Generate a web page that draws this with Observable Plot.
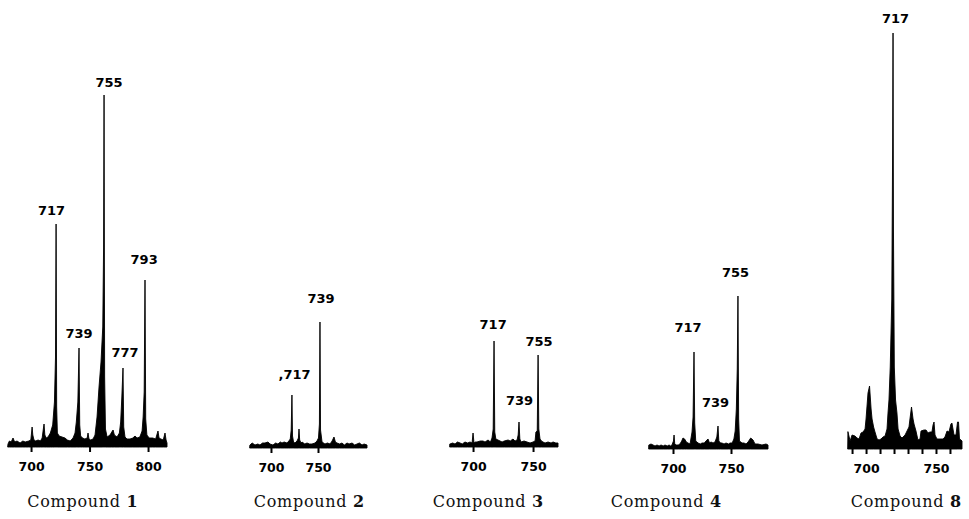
<!DOCTYPE html>
<html><head><meta charset="utf-8">
<script src="https://cdn.jsdelivr.net/npm/d3@7"></script>
<script src="https://cdn.jsdelivr.net/npm/@observablehq/plot@0.6"></script>
<style>
html,body{margin:0;padding:0;background:#fff;}
#chart{position:relative;width:969px;height:519px;overflow:hidden;background:#fff;}
.panel{position:absolute;top:0;}
.cap{position:absolute;width:200px;text-align:center;font-family:"DejaVu Serif",serif;font-size:16px;line-height:16px;letter-spacing:0.7px;color:#111;top:494px;white-space:nowrap;}
.cap b{letter-spacing:0;}
</style></head><body><div id="chart"></div><script>
// ---- data (m/z, relative intensity) ----
const compoundNames = ["1", "2", "3", "4", "8"];

const profile1 = [[680.3,3],[681.5,6],[683,5],[684.6,9],[686,5],[688,6],[690.6,4],[693,6],[695,5],[698,6],[699.8,7],[700.4,14],[700.9,20],[701.5,12],[702.5,7],[704,6],[706,7],[708,6],[709.5,9],[710.5,18],[711.1,23],[711.8,12],[713,9],[714.5,10],[716.5,14],[718.5,22],[720,45],[720.9,90],[721.4,223],[721.9,40],[722.5,14],[724,11],[726.5,10],[729,9],[731,7],[733.5,6],[735.9,9],[737.6,14],[738.7,25],[740,45],[741,99],[741.6,22],[742.4,11],[744,9],[746,8],[748,9],[748.7,14],[749.5,8],[751,7],[753,8],[754.7,12],[756.4,30],[758.1,60],[759.8,85],[761.3,120],[762,200],[762.4,352],[762.9,70],[763.6,18],[765,10],[767.5,12],[769,15],[770.1,17],[771.2,12],[773.5,10],[775.5,14],[776.6,25],[777.6,50],[778.6,79],[779.2,20],[780.3,10],[782,8],[784.6,8],[787,9],[788.9,11],[790.6,9],[793,10],[794.9,16],[795.8,30],[796.7,55],[797.4,167],[798,28],[799,12],[801,9],[804,9],[806.5,8],[808.5,16],[809.4,9],[811,8],[813,7],[814.5,14],[815.4,7],[816.2,4]];

const profile2 = [[677.7,3],[680,5],[683,3],[686,4],[688.3,3],[691,5],[693.6,5],[696.8,6],[699,4],[702.1,3],[705,5],[707.4,4],[710,6],[711.7,5],[714,6],[717,5],[719,7],[720.5,9],[721.5,18],[722.3,53],[722.9,12],[724,6],[725.5,5],[727.7,7],[729.2,10],[729.8,19],[730.5,8],[732,5],[733,6],[736,4],[738.3,5],[741,4],[743.6,4],[746.8,5],[748.9,7],[750.5,10],[751.5,24],[752.1,126],[752.7,18],[754.3,6],[757.4,4],[760,5],[762.8,4],[765,7],[767,11],[768.5,6],[770.2,5],[773,4],[775.5,5],[778,3],[780.9,5],[783,4],[786.2,5],[789,3],[791.5,4],[794,5],[796.8,3],[799,4],[802.1,3]];

const profile3 = [[680.8,3],[683,4],[685,3],[687,5],[689.2,4],[691,3],[693.3,5],[695.5,4],[697.5,5],[699.2,4],[700,14],[700.8,4],[702,5],[703.3,5],[706,6],[708.3,6],[710,5],[712.5,7],[714.5,5],[715.8,9],[716.8,18],[717.5,106],[718.1,15],[719,8],[720.8,7],[722.5,6],[724.2,5],[726,6],[729.2,7],[731,6],[733.3,8],[735,6],[736.7,7],[737.6,12],[738.3,25],[739,8],[740,5],[742.5,6],[745,5],[747.5,4],[750,5],[751.7,6],[752.4,15],[753.5,16],[754.2,92],[754.8,18],[755.8,8],[757,6],[758.3,5],[760,4],[762.5,5],[765,4],[766.7,5],[769,4],[770.8,4]];

const profile4 = [[679.3,4],[681,5],[682.8,4],[684.5,3],[686.2,4],[688,3],[689.7,4],[691.5,3],[693.1,4],[695,3],[696.6,4],[698,3],[699.1,4],[700.4,8],[700.9,14],[701.5,5],[702.6,4],[704.5,4],[706,5],[707.5,8],[708.6,11],[710,10],[711.5,7],[712.9,6],[714.7,5],[716.4,17],[717.3,32],[718.1,97],[718.7,26],[719.6,8],[721.6,6],[723.5,5],[725,6],[727,6],[728.4,8],[730.2,10],[731.5,6],[732.8,7],[734.5,6],[736.2,7],[737.8,12],[738.8,23],[739.5,8],[741,6],[742.2,6],[744,5],[745.7,6],[748,5],[749.1,6],[751,6],[752.5,10],[753.6,18],[754.6,40],[755.4,80],[756,153],[756.6,30],[757.3,8],[759.5,6],[761.2,6],[763,5],[764.7,7],[767,11],[769,9],[770.7,5],[773.3,5],[776.7,4],[780.2,5],[781.9,4]];

const profile8 = [[687.1,17],[688.6,8],[690,14],[692.1,13],[693.6,11],[695,10],[696.4,16],[697.9,17],[699.3,20],[700,30],[701.4,56],[702.5,63],[703.6,40],[704.3,30],[705.4,22],[706.4,17],[707.9,10],[709.3,9],[710.7,10],[712.1,12],[713.6,13],[715,20],[715.7,36],[716.4,49],[717.3,82],[718.4,150],[719,300],[719.3,416],[719.6,220],[720.2,82],[721.1,49],[722.1,36],[722.9,20],[724.3,13],[725.7,11],[727.9,14],[729.3,18],[730.7,22],[731.4,30],[732.5,42],[733.6,30],[734.3,25],[735.7,18],[737.1,9],[738.6,10],[739.3,18],[741.4,19],[742.9,19],[744.3,16],[745.7,17],[747.1,17],[747.9,24],[748.6,27],[749.3,14],[750.7,10],[752.9,10],[755,10],[756.4,12],[757.9,18],[759.3,17],[760.7,25],[761.4,26],[762.9,14],[764.3,14],[765.4,27],[766.1,27],[766.8,10],[767.9,9],[768.6,8]];

// peak labels: [m/z position, height, text]
const labels1 = [[717.1,237,"717"],[740.6,114,"739"],[766.2,365,"755"],[779.9,95,"777"],[796.2,188,"793"]];
const labels2 = [[724.5,74,",717"],[752.7,150,"739"]];
const labels3 = [[716.3,123,"717"],[738.3,47,"739"],[754.6,106,"755"]];
const labels4 = [[712.5,122,"717"],[736.2,47,"739"],[753.4,177,"755"]];
const labels8 = [[720.7,431,"717"]];

// axis ticks
const ticks1 = [700, 750, 800];
const ticks2 = [700, 750];
const ticks3 = [700, 750];
const ticks4 = [700, 750];
const ticks8 = [690, 700, 710, 720, 730, 740, 750, 760];
const tickLabels = [700, 750, 800];

// ---- layout (pixels) ----
const layout = [
  {left: 8,   width: 159, domain: [680.3, 816.2], base: 447, cap: 82.5},
  {left: 250, width: 117, domain: [677.7, 802.1], base: 448, cap: 309},
  {left: 450, width: 108, domain: [680.8, 770.8], base: 447, cap: 488},
  {left: 649, width: 119, domain: [679.3, 781.9], base: 449, cap: 666},
  {left: 848, width: 114, domain: [687.1, 768.6], base: 449, cap: 906}
];
const profiles = [profile1, profile2, profile3, profile4, profile8];
const labelSets = [labels1, labels2, labels3, labels4, labels8];
const tickSets = [ticks1, ticks2, ticks3, ticks4, ticks8];

const H = 480;
const chart = document.getElementById("chart");

layout.forEach((L, i) => {
  const plot = Plot.plot({
    width: L.width,
    height: H,
    marginTop: 0,
    marginBottom: H - L.base,
    marginLeft: 0,
    marginRight: 0,
    style: {background: "transparent", overflow: "visible", fontFamily: "DejaVu Sans", fontSize: "12.5px", fontWeight: "bold", color: "#000"},
    x: {domain: L.domain, ticks: tickSets[i], tickFormat: d => tickLabels.includes(d) ? String(d) : "", tickSize: 5, tickPadding: 10, label: null},
    y: {domain: [0, L.base], axis: null},
    marks: [
      Plot.areaY(profiles[i], {x: d => d[0], y: d => d[1], fill: "#000", stroke: "#000", strokeWidth: 0.9}),
      Plot.text(labelSets[i], {x: d => d[0], y: d => d[1], text: d => d[2], fontSize: 13, fontWeight: "bold", fill: "#000"})
    ]
  });
  // style the axis: bigger bold tick labels and thicker tick marks
  plot.querySelectorAll("g[aria-label]").forEach(g => {
    const lab = g.getAttribute("aria-label") || "";
    if (lab.includes("axis")) {
      g.removeAttribute("font-size");
      g.querySelectorAll("text").forEach(t => {
        t.style.fontSize = "12.5px";
        t.style.fontWeight = "bold";
        t.style.fontFamily = "DejaVu Sans, sans-serif";
      });
      g.querySelectorAll("line, path").forEach(l => { l.style.strokeWidth = "2"; });
    }
  });
  const div = document.createElement("div");
  div.className = "panel";
  div.style.left = L.left + "px";
  div.appendChild(plot);
  chart.appendChild(div);

  const cap = document.createElement("div");
  cap.className = "cap";
  cap.style.left = (L.cap - 100) + "px";
  cap.innerHTML = "Compound <b>" + compoundNames[i] + "</b>";
  chart.appendChild(cap);
});
</script></body></html>
